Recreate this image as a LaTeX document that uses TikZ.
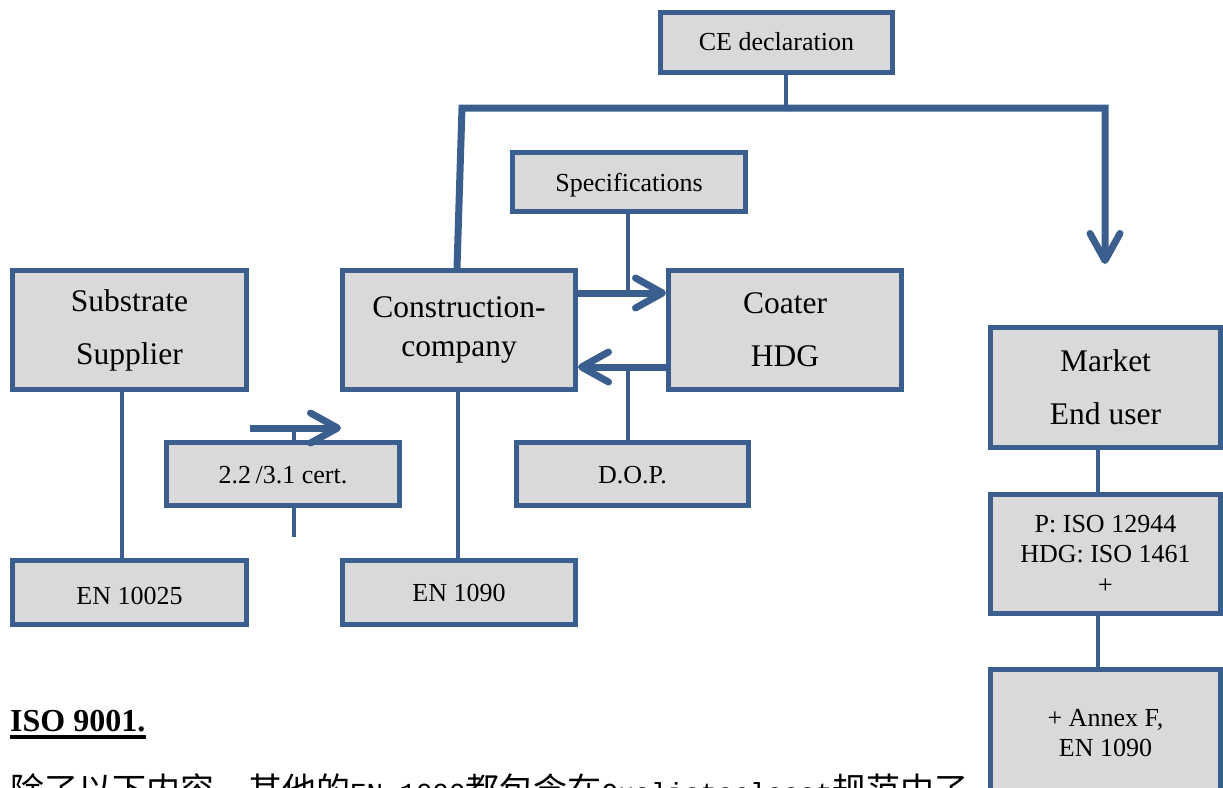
\documentclass[tikz,border=0pt]{standalone}
\usepackage{fontspec}
\setmainfont{Liberation Serif}
\newfontfamily\cjk{Noto Sans CJK SC}
\newfontfamily\monof{Liberation Mono}
\usetikzlibrary{arrows.meta,calc}
\definecolor{bl}{RGB}{58,95,143}
\definecolor{gf}{RGB}{217,217,217}
\tikzset{
  box/.style={draw=bl, fill=gf, line width=5pt, align=center, inner sep=0pt},
  smallf/.style={font=\fontsize{26}{30.5}\selectfont},
  oneline/.style={smallf, text height=18pt, text depth=0pt},
  bigf/.style={font=\fontsize{31.5}{53}\selectfont},
  thinln/.style={draw=bl, line width=4pt},
  thickln/.style={draw=bl, line width=7pt},
  barb/.style={-{Straight Barb[length=27pt,width=30pt,round]}},
}
\begin{document}
\begin{tikzpicture}[x=1pt,y=-1pt]
\useasboundingbox (0,0) rectangle (1223,787);
\clip (0,0) rectangle (1223,787);

% boxes
\node[box, oneline, minimum width=232pt, minimum height=60pt] (ce) at (776.5,42.5) {\raisebox{1.5pt}{CE declaration}};
\node[box, oneline, minimum width=233pt, minimum height=59pt] (spec) at (629,182) {Specifications};
\node[box, bigf, minimum width=234pt, minimum height=119pt] (sub) at (129.5,330) {Substrate\\Supplier};
\node[box, font=\fontsize{31.5}{39}\selectfont, minimum width=233pt, minimum height=119pt] (con) at (459,330) {Construction-\\company};
\node[box, bigf, minimum width=233pt, minimum height=119pt] (coat) at (785,330) {Coater\\HDG};
\node[box, bigf, minimum width=230pt, minimum height=120pt] (mkt) at (1105.5,387.5) {Market\\End user};
\node[box, oneline, minimum width=233pt, minimum height=63pt] (cert) at (283,474) {2.2\,/3.1 cert.};
\node[box, oneline, minimum width=232pt, minimum height=63pt] (dop) at (632.5,474) {D.O.P.};
\node[box, oneline, minimum width=234pt, minimum height=64pt] (en1) at (129.5,592.5) {\raisebox{-2.5pt}{EN 10025}};
\node[box, oneline, minimum width=233pt, minimum height=64pt] (en2) at (459,592.5) {EN 1090};
\node[box, smallf, minimum width=230pt, minimum height=119pt] (iso) at (1105.5,554) {P: ISO 12944\\HDG: ISO 1461\\+};
\node[box, smallf, minimum width=230pt, minimum height=128pt] (annex) at (1105.5,733) {+ Annex F,\\EN 1090};

% helper coordinates
\coordinate (cex) at (786,0);
\coordinate (busL) at (462,108);
\coordinate (busR) at (1105,108);
\coordinate (mktTip) at (1105,264);
\coordinate (conx) at (457,0);
\coordinate (a1) at (0,293);
\coordinate (a2) at (0,367);
\coordinate (sx) at (628,0);
\coordinate (subx) at (122,0);
\coordinate (conx2) at (458,0);
\coordinate (c1) at (250,428);
\coordinate (c2) at (341,428);
\coordinate (certx) at (294,0);
\coordinate (c3) at (0,537);
\coordinate (mx) at (1098,0);

% connectors
\draw[thinln] (ce.south -| cex) -- (cex |- busL);
\draw[thickln, barb] (con.north -| conx) -- (busL) -- (busR) -- (mktTip);
\draw[thickln, barb] (con.east |- a1) -- (coat.west |- a1);
\draw[thickln, barb] (coat.west |- a2) -- (con.east |- a2);
\draw[thinln] (spec.south -| sx) -- (sx |- a1);
\draw[thinln] (dop.north -| sx) -- (sx |- a2);
\draw[thinln] (sub.south -| subx) -- (en1.north -| subx);
\draw[thinln] (con.south -| conx2) -- (en2.north -| conx2);
\draw[thickln, barb] (c1) -- (c2);
\draw[thinln] (cert.north -| certx) -- (certx |- c1);
\draw[thinln] (cert.south -| certx) -- (certx |- c3);
\draw[thinln] (mkt.south -| mx) -- (iso.north -| mx);
\draw[thinln] (iso.south -| mx) -- (annex.north -| mx);

% texts
\node[anchor=base west, inner sep=0pt, font=\bfseries\fontsize{32}{36}\selectfont] (iso9) at (10,731) {ISO 9001.};
\draw[line width=3.5pt] ([yshift=-6pt]iso9.base west) -- ([yshift=-6pt]iso9.base east);
\node[anchor=base west, inner sep=0pt, font=\cjk\fontsize{34}{36}\selectfont] (zh) at (10,802) {除了以下内容，其他的{\monof\fontsize{27.5}{30}\selectfont EN 1090}都包含在{\monof\fontsize{27.5}{30}\selectfont Qualisteelcoat}规范中了};
\end{tikzpicture}
\end{document}
